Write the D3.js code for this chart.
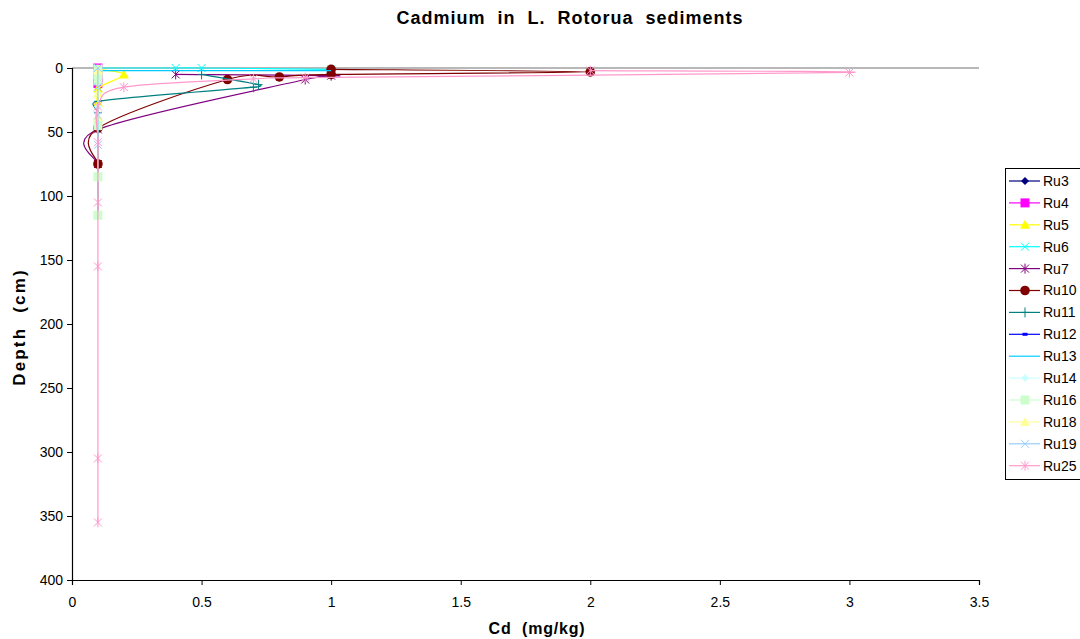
<!DOCTYPE html>
<html><head><meta charset="utf-8">
<script src="https://cdn.jsdelivr.net/npm/d3@7"></script>
<style>body{margin:0;background:#fff;} svg{display:block;}</style>
</head><body>
<script>
// ---- data ----
const seriesNames = ["Ru3","Ru4","Ru5","Ru6","Ru7","Ru10","Ru11","Ru12","Ru13","Ru14","Ru16","Ru18","Ru19","Ru25"];
const seriesColors = ["#000080","#FF00FF","#FFFF00","#00FFFF","#800080","#800000","#008080","#0000FF","#00CCFF","#CCFFFF","#CCFFCC","#FFFF99","#99CCFF","#FF99CC"];
const seriesMarkers = ["diamond","square","triangle","x","asterisk","circle","plus","dash","none","diamond","square","triangle","x","asterisk"];

const ru3Cd = [0.1, 0.1, 0.1, 0.1, 0.1];
const ru3Depth = [1, 5, 15, 48, 115];
const ru4Cd = [0.1, 0.1, 0.1];
const ru4Depth = [0, 7, 12];
const ru5Cd = [0.1, 0.2, 0.1, 0.1];
const ru5Depth = [1, 5, 16, 27];
const ru6Cd = [0.1, 0.4, 0.5, 1.0];
const ru6Depth = [0, 0, 0, 1];
const ru7Cd = [0.4, 1.0, 0.9, 0.1, 0.1];
const ru7Depth = [5, 6, 9, 48, 75];
const ru10Cd = [1.0, 2.0, 1.0, 0.8, 0.6, 0.1, 0.1];
const ru10Depth = [1, 3, 5, 7, 9, 47, 75];
const ru11Cd = [0.5, 0.72, 0.7, 0.1, 0.1, 0.1];
const ru11Depth = [5, 13, 15, 26, 35, 47];
const ru12Cd = [0.1, 0.1, 0.1];
const ru12Depth = [1, 5, 10];
const ru13Cd = [0.1, 0.5, 1.0];
const ru13Depth = [2, 2, 2];
const ru14Cd = [0.1, 0.1, 0.1, 0.1];
const ru14Depth = [1, 10, 20, 30];
const ru16Cd = [0.1, 0.1, 0.1, 0.1, 0.1, 0.1];
const ru16Depth = [1, 5, 10, 45, 85, 115];
const ru18Cd = [0.1, 0.1, 0.1];
const ru18Depth = [2, 20, 38];
const ru19Cd = [0.1, 0.1, 0.1, 0.1];
const ru19Depth = [0, 15, 37, 60];
const ru25Cd = [2.0, 3.0, 0.9, 0.7, 0.2, 0.1, 0.1, 0.1, 0.1, 0.1, 0.1];
const ru25Depth = [2, 3.5, 7.5, 8.5, 15, 30, 58, 105, 155, 305, 355];

const xTicks = [0, 0.5, 1, 1.5, 2, 2.5, 3, 3.5];
const yTicks = [0, 50, 100, 150, 200, 250, 300, 350, 400];

const seriesCd = [ru3Cd,ru4Cd,ru5Cd,ru6Cd,ru7Cd,ru10Cd,ru11Cd,ru12Cd,ru13Cd,ru14Cd,ru16Cd,ru18Cd,ru19Cd,ru25Cd];
const seriesDepth = [ru3Depth,ru4Depth,ru5Depth,ru6Depth,ru7Depth,ru10Depth,ru11Depth,ru12Depth,ru13Depth,ru14Depth,ru16Depth,ru18Depth,ru19Depth,ru25Depth];

// ---- layout ----
const W = 1080, H = 639;
const L = 72, R = 979, T = 68, B = 580;
const svg = d3.select("body").append("svg").attr("width", W).attr("height", H);

const x = d3.scaleLinear().domain([0, 3.5]).range([L, R]);
const y = d3.scaleLinear().domain([0, 400]).range([T, B]);

const font = "'Liberation Sans', Arial, sans-serif";

// top border (gray)
svg.append("line").attr("x1", L).attr("x2", R).attr("y1", T).attr("y2", T)
  .attr("stroke", "#b8b8b8").attr("stroke-width", 2);

// axes
const xAxis = svg.append("g").attr("transform", `translate(0,${B})`)
  .call(d3.axisBottom(x).tickValues(xTicks).tickSize(5).tickFormat(d3.format("")));
const yAxis = svg.append("g").attr("transform", `translate(${L},0)`)
  .call(d3.axisLeft(y).tickValues(yTicks).tickSize(5).tickFormat(d3.format("")));
[xAxis, yAxis].forEach(g => {
  g.selectAll("path").attr("stroke", "#000").attr("stroke-width", 1.2);
  g.selectAll("line").attr("stroke", "#000");
  g.selectAll("text").attr("font-family", font).attr("font-size", 14).attr("fill", "#000");
});
xAxis.selectAll("text").attr("y", 14).attr("dy", "0.9em");
yAxis.selectAll("text").attr("dy", "0.35em").attr("x", -9);

// markers
function drawMarker(g, type, color, cx, cy, s) {
  s = s || 1;
  switch (type) {
    case "diamond":
      g.append("path").attr("d", `M${cx},${cy-4*s}L${cx+4*s},${cy}L${cx},${cy+4*s}L${cx-4*s},${cy}Z`).attr("fill", color); break;
    case "square":
      g.append("rect").attr("x", cx-4.5*s).attr("y", cy-4.5*s).attr("width", 9*s).attr("height", 9*s).attr("fill", color); break;
    case "triangle":
      g.append("path").attr("d", `M${cx},${cy-5*s}L${cx+5*s},${cy+4*s}L${cx-5*s},${cy+4*s}Z`).attr("fill", color); break;
    case "circle":
      g.append("circle").attr("cx", cx).attr("cy", cy).attr("r", 4.8*s).attr("fill", color); break;
    case "x":
      g.append("path").attr("d", `M${cx-4*s},${cy-4*s}L${cx+4*s},${cy+4*s}M${cx-4*s},${cy+4*s}L${cx+4*s},${cy-4*s}`).attr("stroke", color).attr("stroke-width", 1); break;
    case "asterisk":
      g.append("path").attr("d", `M${cx-4*s},${cy-4*s}L${cx+4*s},${cy+4*s}M${cx-4*s},${cy+4*s}L${cx+4*s},${cy-4*s}M${cx},${cy-5*s}L${cx},${cy+5*s}`).attr("stroke", color).attr("stroke-width", 1); break;
    case "plus":
      g.append("path").attr("d", `M${cx-4*s},${cy}L${cx+4*s},${cy}M${cx},${cy-5*s}L${cx},${cy+5*s}`).attr("stroke", color).attr("stroke-width", 1); break;
    case "dash":
      g.append("rect").attr("x", cx-2.5*s).attr("y", cy-1.5*s).attr("width", 5*s).attr("height", 3*s).attr("fill", color); break;
  }
}

// Excel-like smoothing: Catmull-Rom bezier with control length capped at segment length
function smoothPath(P) {
  if (P.length < 2) return "";
  let d = `M${P[0][0]},${P[0][1]}`;
  const dist = (a, b) => Math.hypot(a[0]-b[0], a[1]-b[1]);
  for (let i = 0; i < P.length - 1; i++) {
    const p0 = P[Math.max(0, i-1)], p1 = P[i], p2 = P[i+1], p3 = P[Math.min(P.length-1, i+2)];
    const seg = dist(p1, p2);
    let t1 = [(p2[0]-p0[0])/6, (p2[1]-p0[1])/6];
    let t2 = [(p3[0]-p1[0])/6, (p3[1]-p1[1])/6];
    const l1 = Math.hypot(t1[0], t1[1]), l2 = Math.hypot(t2[0], t2[1]);
    if (l1 > seg && l1 > 0) t1 = [t1[0]*seg/l1, t1[1]*seg/l1];
    if (l2 > seg && l2 > 0) t2 = [t2[0]*seg/l2, t2[1]*seg/l2];
    d += `C${p1[0]+t1[0]},${p1[1]+t1[1]} ${p2[0]-t2[0]},${p2[1]-t2[1]} ${p2[0]},${p2[1]}`;
  }
  return d;
}

const plot = svg.append("g");
seriesNames.forEach((name, i) => {
  const pts = seriesCd[i].map((v, j) => [v, seriesDepth[i][j]]);
  const px = pts.map(p => [x(p[0]), y(p[1])]);
  const g = plot.append("g");
  g.append("path").attr("d", smoothPath(px)).attr("fill", "none")
    .attr("stroke", seriesColors[i]).attr("stroke-width", 1.2);
  px.forEach(p => drawMarker(g, seriesMarkers[i], seriesColors[i], p[0], p[1]));
});

// titles
svg.append("text").attr("x", 570).attr("y", 24).attr("text-anchor", "middle")
  .attr("font-family", font).attr("font-weight", "bold").attr("font-size", 18)
  .attr("letter-spacing", 1)
  .style("white-space", "pre").text("Cadmium  in  L.  Rotorua  sediments");
svg.append("text").attr("x", 537).attr("y", 634).attr("text-anchor", "middle")
  .attr("font-family", font).attr("font-weight", "bold").attr("font-size", 16)
  .attr("letter-spacing", 0.8)
  .style("white-space", "pre").text("Cd  (mg/kg)");
svg.append("text").attr("transform", "translate(25,327) rotate(-90)").attr("text-anchor", "middle")
  .attr("font-family", font).attr("font-weight", "bold").attr("font-size", 17)
  .attr("letter-spacing", 2.2)
  .style("white-space", "pre").text("Depth  (cm)");

// legend
const lg = svg.append("g");
lg.append("rect").attr("x", 1005.5).attr("y", 168.5).attr("width", 90).attr("height", 311)
  .attr("fill", "#fff").attr("stroke", "#000");
seriesNames.forEach((name, i) => {
  const ly = 181 + i * 21.9;
  lg.append("line").attr("x1", 1009).attr("x2", 1040).attr("y1", ly).attr("y2", ly)
    .attr("stroke", seriesColors[i]).attr("stroke-width", 1.2);
  drawMarker(lg, seriesMarkers[i], seriesColors[i], 1025, ly);
  lg.append("text").attr("x", 1043).attr("y", ly).attr("dy", "0.35em")
    .attr("font-family", font).attr("font-size", 14).text(name);
});
</script>
</body></html>
